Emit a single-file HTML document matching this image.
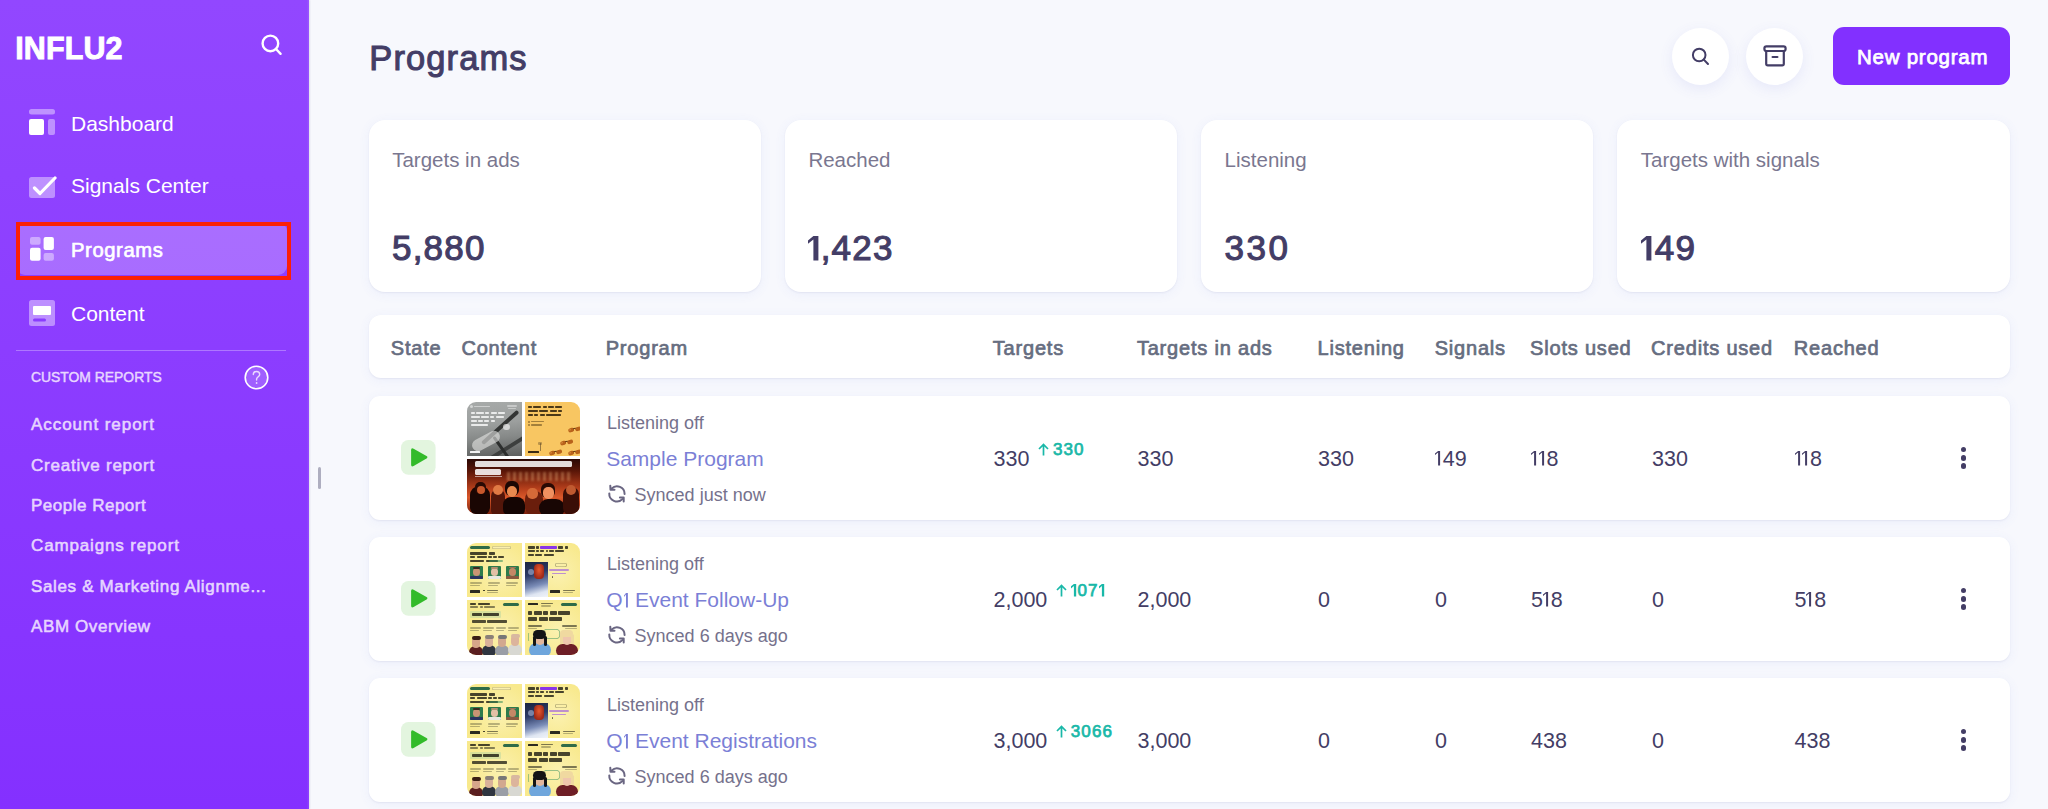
<!DOCTYPE html>
<html><head><meta charset="utf-8"><style>
html,body{margin:0;padding:0}
body{width:2048px;height:809px;overflow:hidden;position:relative;background:#f7f8fd;font-family:"Liberation Sans",sans-serif}
.t{position:absolute;line-height:1;white-space:nowrap}
.a{position:absolute}
#sb{position:absolute;left:0;top:0;width:309px;height:809px;background:linear-gradient(180deg,#9247ff 0%,#8430ff 100%);box-shadow:inset -1.5px 0 0 rgba(255,255,255,0.07),1px 0 1.5px rgba(60,50,110,0.12)}
.circ{width:57px;height:57px;border-radius:50%;background:#fff;box-shadow:0 4px 14px rgba(90,100,220,0.10)}
.card{background:#fff;border-radius:16px;box-shadow:0 1px 2px rgba(50,60,110,0.07),0 2px 12px rgba(90,110,220,0.07)}
.thumb{width:112.3px;height:112px;border-radius:9px;overflow:hidden}
.q{position:absolute;overflow:hidden}
.q i{position:absolute;display:block}
</style></head><body>
<div id="sb"></div><div class="t" style="left:15.30px;top:32.58px;font-size:30.5px;color:#fff;font-weight:700;letter-spacing:0.1px;-webkit-text-stroke:0.9px #fff;">INFLU2</div>
<svg class="a" style="left:258px;top:31px" width="28" height="28" viewBox="0 0 28 28">
<circle cx="12.4" cy="12.4" r="7.8" fill="none" stroke="#fff" stroke-width="2.4"/>
<line x1="18" y1="18" x2="22.6" y2="22.8" stroke="#fff" stroke-width="2.4" stroke-linecap="round"/></svg><svg class="a" style="left:29px;top:109px" width="26" height="26" viewBox="0 0 26 26">
<rect x="0" y="0" width="26" height="5.5" rx="2.5" fill="rgba(255,255,255,0.42)"/>
<rect x="0" y="10" width="15" height="16" rx="2" fill="#fff"/>
<rect x="19" y="10" width="7" height="16" rx="2" fill="rgba(255,255,255,0.42)"/></svg><svg class="a" style="left:29px;top:173px" width="28" height="26" viewBox="0 0 28 26">
<rect x="0" y="4" width="26" height="21" rx="2.5" fill="rgba(255,255,255,0.42)"/>
<path d="M5.5 15 L11 20.5 L26 5" fill="none" stroke="#fff" stroke-width="3.2" stroke-linecap="round" stroke-linejoin="round"/></svg><div class="a" style="left:16px;top:222px;width:270.5px;height:52.8px;border-radius:9px;background:rgba(255,255,255,0.24)"></div><div class="a" style="left:16px;top:222px;width:267px;height:49.5px;border:4px solid #fc2006"></div><svg class="a" style="left:30px;top:237px" width="25" height="24" viewBox="0 0 25 24">
<rect x="0" y="0" width="10.6" height="7.8" rx="2" fill="rgba(255,255,255,0.42)"/>
<rect x="13.6" y="0" width="10.3" height="13" rx="2" fill="#fff"/>
<rect x="0" y="10.7" width="10.6" height="13.1" rx="2" fill="#fff"/>
<rect x="13.6" y="16" width="10.3" height="7.8" rx="2" fill="rgba(255,255,255,0.42)"/></svg><svg class="a" style="left:29px;top:300px" width="26" height="26" viewBox="0 0 26 26">
<rect x="0" y="0" width="26" height="26" rx="2.5" fill="rgba(255,255,255,0.42)"/>
<rect x="4" y="6" width="18" height="9" rx="1" fill="#fff"/>
<rect x="4" y="18.5" width="13" height="3" rx="1.5" fill="#8a3cff"/></svg><div class="t" style="left:71.00px;top:112.52px;font-size:21px;color:#fff;font-weight:400;letter-spacing:0px;">Dashboard</div>
<div class="t" style="left:71.00px;top:174.92px;font-size:21px;color:#fff;font-weight:400;letter-spacing:0px;">Signals Center</div>
<div class="t" style="left:71.00px;top:240.20px;font-size:20.2px;color:#fff;font-weight:400;letter-spacing:0.62px;-webkit-text-stroke:0.65px #fff;">Programs</div>
<div class="t" style="left:71.00px;top:302.72px;font-size:21px;color:#fff;font-weight:400;letter-spacing:0px;">Content</div>
<div class="a" style="left:16px;top:350px;width:270px;height:1px;background:rgba(255,255,255,0.3)"></div><div class="t" style="left:31.00px;top:371.03px;font-size:13.9px;color:#e8d6ff;font-weight:400;letter-spacing:0px;-webkit-text-stroke:0.45px #e8d6ff;">CUSTOM REPORTS</div>
<svg class="a" style="left:244px;top:365px" width="25" height="25" viewBox="0 0 25 25">
<circle cx="12.5" cy="12.5" r="11.3" fill="rgba(255,255,255,0.18)" stroke="#fff" stroke-width="1.6"/>
<path d="M9.3 9.6 C9.3 7.6 10.8 6.5 12.5 6.5 C14.3 6.5 15.7 7.7 15.7 9.4 C15.7 11.4 13 11.8 12.6 13.8 L12.6 15" fill="none" stroke="#ead9ff" stroke-width="1.4" stroke-linecap="round"/>
<circle cx="12.6" cy="18" r="0.9" fill="#ead9ff"/></svg><div class="t" style="left:31.00px;top:416.21px;font-size:17px;color:#e6d5ff;font-weight:400;letter-spacing:0.95px;-webkit-text-stroke:0.55px #e6d5ff;">Account report</div>
<div class="t" style="left:31.00px;top:456.56px;font-size:17px;color:#e6d5ff;font-weight:400;letter-spacing:0.77px;-webkit-text-stroke:0.55px #e6d5ff;">Creative report</div>
<div class="t" style="left:31.00px;top:496.91px;font-size:17px;color:#e6d5ff;font-weight:400;letter-spacing:0.5px;-webkit-text-stroke:0.55px #e6d5ff;">People Report</div>
<div class="t" style="left:31.00px;top:537.26px;font-size:17px;color:#e6d5ff;font-weight:400;letter-spacing:0.85px;-webkit-text-stroke:0.55px #e6d5ff;">Campaigns report</div>
<div class="t" style="left:31.00px;top:577.61px;font-size:17px;color:#e6d5ff;font-weight:400;letter-spacing:0.65px;-webkit-text-stroke:0.55px #e6d5ff;">Sales &amp; Marketing Alignme...</div>
<div class="t" style="left:31.00px;top:617.96px;font-size:17px;color:#e6d5ff;font-weight:400;letter-spacing:0.6px;-webkit-text-stroke:0.55px #e6d5ff;">ABM Overview</div>
<div class="a" style="left:318px;top:467px;width:3px;height:22px;border-radius:2px;background:#aeaec0"></div><div class="t" style="left:369.30px;top:40.70px;font-size:34.5px;color:#433d66;font-weight:400;letter-spacing:1.1px;-webkit-text-stroke:1.05px #433d66;">Programs</div>
<div class="a circ" style="left:1671.5px;top:27.5px"></div><div class="a circ" style="left:1746.2px;top:27.5px"></div><svg class="a" style="left:1688px;top:44px" width="24" height="24" viewBox="0 0 24 24">
<circle cx="11.2" cy="11" r="6.3" fill="none" stroke="#433d66" stroke-width="2"/>
<line x1="15.8" y1="15.6" x2="20" y2="20" stroke="#433d66" stroke-width="2" stroke-linecap="round"/></svg><svg class="a" style="left:1762px;top:44px" width="26" height="24" viewBox="0 0 26 24">
<rect x="2.4" y="2.4" width="21.2" height="4.6" rx="2" fill="none" stroke="#433d66" stroke-width="2.2"/>
<path d="M4.2 7 L4.2 19.8 Q4.2 21.4 5.8 21.4 L20.2 21.4 Q21.8 21.4 21.8 19.8 L21.8 7" fill="none" stroke="#433d66" stroke-width="2.2"/>
<line x1="10.6" y1="13" x2="15.4" y2="13" stroke="#433d66" stroke-width="2.2" stroke-linecap="round"/></svg><div class="a" style="left:1833px;top:27px;width:177px;height:57.5px;border-radius:11px;background:#8230ff"></div><div class="t" style="left:1857.00px;top:46.75px;font-size:20.5px;color:#fff;font-weight:400;letter-spacing:0.75px;-webkit-text-stroke:0.75px #fff;">New program</div>
<div class="a card" style="left:368.50px;top:119.5px;width:392.5px;height:172.5px"></div><div class="t" style="left:392.20px;top:150.15px;font-size:20.5px;color:#7a7790;font-weight:400;letter-spacing:0px;">Targets in ads</div>
<div class="t" style="left:392.00px;top:229.87px;font-size:35px;color:#433d66;font-weight:400;letter-spacing:1.2px;-webkit-text-stroke:1.1px #433d66;">5,880</div>
<div class="a card" style="left:784.70px;top:119.5px;width:392.5px;height:172.5px"></div><div class="t" style="left:808.40px;top:150.15px;font-size:20.5px;color:#7a7790;font-weight:400;letter-spacing:0px;">Reached</div>
<div class="t" style="left:808.20px;top:229.87px;font-size:35px;color:#433d66;font-weight:400;letter-spacing:1.2px;-webkit-text-stroke:1.1px #433d66;"><svg width="12.50" height="24.60" viewBox="0 0 12.50 24.60" style="display:inline-block;vertical-align:-0.4px;overflow:visible"><path d="M5.40 0.00 L10.40 0.00 L10.40 24.60 L5.40 24.60 L5.40 3.40 L0.00 7.70 L0.00 4.40 Z" fill="#433d66"/></svg>,423</div>
<div class="a card" style="left:1200.90px;top:119.5px;width:392.5px;height:172.5px"></div><div class="t" style="left:1224.60px;top:150.15px;font-size:20.5px;color:#7a7790;font-weight:400;letter-spacing:0px;">Listening</div>
<div class="t" style="left:1224.40px;top:229.87px;font-size:35px;color:#433d66;font-weight:400;letter-spacing:1.2px;-webkit-text-stroke:1.1px #433d66;"><span style="letter-spacing:2.6px">330</span></div>
<div class="a card" style="left:1617.10px;top:119.5px;width:392.5px;height:172.5px"></div><div class="t" style="left:1640.80px;top:150.15px;font-size:20.5px;color:#7a7790;font-weight:400;letter-spacing:0px;">Targets with signals</div>
<div class="t" style="left:1640.60px;top:229.87px;font-size:35px;color:#433d66;font-weight:400;letter-spacing:1.2px;-webkit-text-stroke:1.1px #433d66;"><svg width="14.20" height="24.60" viewBox="0 0 14.20 24.60" style="display:inline-block;vertical-align:-0.4px;overflow:visible"><path d="M5.40 0.00 L10.40 0.00 L10.40 24.60 L5.40 24.60 L5.40 3.40 L0.00 7.70 L0.00 4.40 Z" fill="#433d66"/></svg>49</div>
<div class="a card" style="left:368.5px;top:315px;width:1641px;height:63px;border-radius:12px"></div><div class="t" style="left:390.80px;top:337.77px;font-size:20px;color:#666d80;font-weight:400;letter-spacing:0.8px;-webkit-text-stroke:0.7px #666d80;">State</div>
<div class="t" style="left:461.40px;top:337.77px;font-size:20px;color:#666d80;font-weight:400;letter-spacing:0.8px;-webkit-text-stroke:0.7px #666d80;">Content</div>
<div class="t" style="left:605.70px;top:337.77px;font-size:20px;color:#666d80;font-weight:400;letter-spacing:0.8px;-webkit-text-stroke:0.7px #666d80;">Program</div>
<div class="t" style="left:992.80px;top:337.77px;font-size:20px;color:#666d80;font-weight:400;letter-spacing:0.8px;-webkit-text-stroke:0.7px #666d80;">Targets</div>
<div class="t" style="left:1136.90px;top:337.77px;font-size:20px;color:#666d80;font-weight:400;letter-spacing:0.8px;-webkit-text-stroke:0.7px #666d80;">Targets in ads</div>
<div class="t" style="left:1317.50px;top:337.77px;font-size:20px;color:#666d80;font-weight:400;letter-spacing:0.8px;-webkit-text-stroke:0.7px #666d80;">Listening</div>
<div class="t" style="left:1434.70px;top:337.77px;font-size:20px;color:#666d80;font-weight:400;letter-spacing:0.8px;-webkit-text-stroke:0.7px #666d80;">Signals</div>
<div class="t" style="left:1530.10px;top:337.77px;font-size:20px;color:#666d80;font-weight:400;letter-spacing:0.8px;-webkit-text-stroke:0.7px #666d80;">Slots used</div>
<div class="t" style="left:1651.10px;top:337.77px;font-size:20px;color:#666d80;font-weight:400;letter-spacing:0.8px;-webkit-text-stroke:0.7px #666d80;">Credits used</div>
<div class="t" style="left:1793.80px;top:337.77px;font-size:20px;color:#666d80;font-weight:400;letter-spacing:0.8px;-webkit-text-stroke:0.7px #666d80;">Reached</div>
<div class="a card" style="left:368.5px;top:396px;width:1641px;height:124px;border-radius:11px"></div><svg class="a" style="left:400.6px;top:440.4px" width="35" height="35" viewBox="0 0 35 35">
<rect x="0" y="0" width="34.6" height="34.8" rx="7.5" fill="#e3f5df"/>
<path d="M10.1 10.2 Q10.1 7.3 12.6 8.7 L25.5 16.1 Q27.4 17.3 25.5 18.6 L12.6 26.1 Q10.1 27.5 10.1 24.6 Z" fill="#33bb2a"/></svg><div class="a thumb" style="left:467.3px;top:402px"><div class="q" style="left:0;top:0;width:55px;height:54px;background:linear-gradient(175deg,#a7aaa9 0%,#9c9f9e 40%,#868988 65%,#5d5f5e 100%)"><i style="left:3px;top:3px;width:3px;height:3px;background:rgba(255,255,255,0.5);border-radius:2px;"></i><i style="left:7px;top:3.5px;width:16px;height:1.6px;background:rgba(255,255,255,0.45);border-radius:1px;"></i><i style="left:40px;top:3px;width:10px;height:1.6px;background:rgba(255,255,255,0.4);border-radius:1px;"></i><i style="left:41px;top:6px;width:8px;height:1.4px;background:rgba(255,255,255,0.4);border-radius:1px;"></i><i style="left:3.5px;top:9.5px;width:4px;height:2.4px;background:rgba(255,255,255,0.78);border-radius:0.8px;"></i><i style="left:8.8px;top:9.5px;width:8px;height:2.4px;background:rgba(255,255,255,0.78);border-radius:0.8px;"></i><i style="left:18.1px;top:9.5px;width:4px;height:2.4px;background:rgba(255,255,255,0.78);border-radius:0.8px;"></i><i style="left:23.4px;top:9.5px;width:6px;height:2.4px;background:rgba(255,255,255,0.78);border-radius:0.8px;"></i><i style="left:30.7px;top:9.5px;width:7px;height:2.4px;background:rgba(255,255,255,0.78);border-radius:0.8px;"></i><i style="left:3.5px;top:13.5px;width:9px;height:2.4px;background:rgba(255,255,255,0.78);border-radius:0.8px;"></i><i style="left:13.8px;top:13.5px;width:8px;height:2.4px;background:rgba(255,255,255,0.78);border-radius:0.8px;"></i><i style="left:23.1px;top:13.5px;width:4px;height:2.4px;background:rgba(255,255,255,0.78);border-radius:0.8px;"></i><i style="left:28.4px;top:13.5px;width:8px;height:2.4px;background:rgba(255,255,255,0.78);border-radius:0.8px;"></i><i style="left:3.5px;top:17.5px;width:6px;height:2.4px;background:rgba(255,255,255,0.78);border-radius:0.8px;"></i><i style="left:10.8px;top:17.5px;width:5px;height:2.4px;background:rgba(255,255,255,0.78);border-radius:0.8px;"></i><i style="left:17.1px;top:17.5px;width:5px;height:2.4px;background:rgba(255,255,255,0.78);border-radius:0.8px;"></i><i style="left:23.4px;top:17.5px;width:4px;height:2.4px;background:rgba(255,255,255,0.78);border-radius:0.8px;"></i><i style="left:3.5px;top:21.5px;width:17px;height:2.4px;background:rgba(255,255,255,0.78);border-radius:0.8px;"></i><i style="left:14px;top:40px;width:48px;height:4px;background:#343635;border-radius:2px;transform:rotate(-42deg);transform-origin:0 0"></i><i style="left:22px;top:55px;width:44px;height:3.5px;background:#3d3f3e;border-radius:2px;transform:rotate(-32deg);transform-origin:0 0"></i><i style="left:28px;top:34px;width:26px;height:3px;background:#2c2e2d;border-radius:1.5px;transform:rotate(55deg);transform-origin:0 0"></i><i style="left:4px;top:33px;width:30px;height:12px;background:rgba(230,230,228,0.6);border-radius:6px;transform:rotate(-28deg)"></i><i style="left:36px;top:22px;width:7px;height:6px;background:rgba(240,240,240,0.7);border-radius:3px;"></i><i style="left:3px;top:48.5px;width:10px;height:2.6px;background:rgba(255,255,255,0.9);border-radius:0.5px;"></i></div><div class="q" style="left:57.7px;top:0;width:54.6px;height:54px;background:#f8c662"><i style="left:3px;top:3.5px;width:4px;height:2.6px;background:rgba(45,30,10,0.85);border-radius:0.8px;"></i><i style="left:8.3px;top:3.5px;width:8px;height:2.6px;background:rgba(45,30,10,0.85);border-radius:0.8px;"></i><i style="left:17.6px;top:3.5px;width:4px;height:2.6px;background:rgba(45,30,10,0.85);border-radius:0.8px;"></i><i style="left:22.9px;top:3.5px;width:6px;height:2.6px;background:rgba(45,30,10,0.85);border-radius:0.8px;"></i><i style="left:30.2px;top:3.5px;width:7px;height:2.6px;background:rgba(45,30,10,0.85);border-radius:0.8px;"></i><i style="left:3px;top:7.7px;width:10px;height:2.6px;background:rgba(45,30,10,0.85);border-radius:0.8px;"></i><i style="left:14.3px;top:7.7px;width:9px;height:2.6px;background:rgba(45,30,10,0.85);border-radius:0.8px;"></i><i style="left:24.6px;top:7.7px;width:7px;height:2.6px;background:rgba(45,30,10,0.85);border-radius:0.8px;"></i><i style="left:32.9px;top:7.7px;width:4px;height:2.6px;background:rgba(45,30,10,0.85);border-radius:0.8px;"></i><i style="left:3px;top:11.9px;width:5px;height:2.6px;background:rgba(45,30,10,0.85);border-radius:0.8px;"></i><i style="left:9.3px;top:11.9px;width:4px;height:2.6px;background:rgba(45,30,10,0.85);border-radius:0.8px;"></i><i style="left:14.6px;top:11.9px;width:5px;height:2.6px;background:rgba(45,30,10,0.85);border-radius:0.8px;"></i><i style="left:20.9px;top:11.9px;width:15px;height:2.6px;background:rgba(45,30,10,0.85);border-radius:0.8px;"></i><i style="left:3px;top:18.5px;width:2px;height:2px;background:rgba(60,40,10,0.5);border-radius:1px;"></i><i style="left:6px;top:18.8px;width:13px;height:1.4px;background:rgba(60,40,10,0.45);border-radius:0.7px;"></i><i style="left:3px;top:22px;width:2px;height:2px;background:rgba(60,40,10,0.5);border-radius:1px;"></i><i style="left:6px;top:22.3px;width:11px;height:1.4px;background:rgba(60,40,10,0.45);border-radius:0.7px;"></i><i style="left:43px;top:24px;width:13px;height:6px;transform:rotate(-18deg)"><i style="left:0px;top:1px;width:5.5px;height:4.2px;background:#b8621a;border-radius:2.5px;"></i><i style="left:7px;top:1.5px;width:5.5px;height:4.2px;background:#b8621a;border-radius:2.5px;"></i><i style="left:4.5px;top:1.6px;width:3px;height:0.9px;background:#6a3a10;border-radius:0.5px;"></i><i style="left:0.8px;top:1.8px;width:2.5px;height:1.6px;background:rgba(240,170,90,0.6);border-radius:1px;"></i></i><i style="left:35px;top:37px;width:13px;height:6px;transform:rotate(-18deg)"><i style="left:0px;top:1px;width:5.5px;height:4.2px;background:#b8621a;border-radius:2.5px;"></i><i style="left:7px;top:1.5px;width:5.5px;height:4.2px;background:#b8621a;border-radius:2.5px;"></i><i style="left:4.5px;top:1.6px;width:3px;height:0.9px;background:#6a3a10;border-radius:0.5px;"></i><i style="left:0.8px;top:1.8px;width:2.5px;height:1.6px;background:rgba(240,170,90,0.6);border-radius:1px;"></i></i><i style="left:24px;top:47px;width:13px;height:6px;transform:rotate(-18deg)"><i style="left:0px;top:1px;width:5.5px;height:4.2px;background:#b8621a;border-radius:2.5px;"></i><i style="left:7px;top:1.5px;width:5.5px;height:4.2px;background:#b8621a;border-radius:2.5px;"></i><i style="left:4.5px;top:1.6px;width:3px;height:0.9px;background:#6a3a10;border-radius:0.5px;"></i><i style="left:0.8px;top:1.8px;width:2.5px;height:1.6px;background:rgba(240,170,90,0.6);border-radius:1px;"></i></i><i style="left:43px;top:47px;width:13px;height:6px;transform:rotate(-18deg)"><i style="left:0px;top:1px;width:5.5px;height:4.2px;background:#b8621a;border-radius:2.5px;"></i><i style="left:7px;top:1.5px;width:5.5px;height:4.2px;background:#b8621a;border-radius:2.5px;"></i><i style="left:4.5px;top:1.6px;width:3px;height:0.9px;background:#6a3a10;border-radius:0.5px;"></i><i style="left:0.8px;top:1.8px;width:2.5px;height:1.6px;background:rgba(240,170,90,0.6);border-radius:1px;"></i></i><i style="left:15px;top:41px;width:1.2px;height:8px;background:rgba(90,70,40,0.6);border-radius:0.5px;"></i><i style="left:13.5px;top:40px;width:4px;height:3px;background:rgba(90,70,40,0.4);border-radius:1px;"></i><i style="left:3px;top:48.5px;width:11px;height:2.6px;background:#3a2a12;border-radius:0.5px;"></i></div><div class="q" style="left:0;top:56.8px;width:112.3px;height:55.2px;background:linear-gradient(180deg,#2a0804 0%,#5a1608 22%,#b8401c 55%,#d9582a 70%,#7a200c 100%)"><i style="left:40px;top:13px;width:66px;height:9px;background:repeating-linear-gradient(90deg,rgba(255,200,140,0.35) 0 3px,transparent 3px 6px);border-radius:1px;filter:blur(0.8px)"></i><i style="left:8px;top:2.5px;width:97px;height:5.8px;background:rgba(255,255,255,0.86);border-radius:1.5px;"></i><i style="left:8px;top:10.5px;width:26px;height:5.8px;background:rgba(255,255,255,0.86);border-radius:1.5px;"></i><i style="left:8px;top:17.5px;width:27px;height:0.8px;background:rgba(255,255,255,0.55);border-radius:0px;"></i><i style="left:3px;top:27px;width:20px;height:30px;background:#1a0603;border-radius:9px;"></i><i style="left:8px;top:23px;width:11px;height:12px;background:#2a0a04;border-radius:5px;"></i><i style="left:10px;top:27px;width:8px;height:8px;background:#c8582c;border-radius:4px;"></i><i style="left:24px;top:30px;width:14px;height:28px;background:#52160a;border-radius:7px;"></i><i style="left:26px;top:26px;width:10px;height:10px;background:#e07a44;border-radius:5px;"></i><i style="left:38px;top:22px;width:14px;height:15px;background:#1c0704;border-radius:6px;"></i><i style="left:40px;top:27px;width:10px;height:11px;background:#e88a50;border-radius:5px;"></i><i style="left:36px;top:38px;width:22px;height:20px;background:#140503;border-radius:8px;"></i><i style="left:58px;top:32px;width:18px;height:24px;background:#6a1e0c;border-radius:8px;"></i><i style="left:60px;top:29px;width:11px;height:11px;background:#d46a38;border-radius:5px;"></i><i style="left:74px;top:24px;width:14px;height:15px;background:#2a0a04;border-radius:6px;"></i><i style="left:76px;top:28px;width:11px;height:12px;background:#f09060;border-radius:5px;"></i><i style="left:72px;top:40px;width:26px;height:18px;background:#180604;border-radius:9px;"></i><i style="left:96px;top:28px;width:16px;height:28px;background:#3a0e06;border-radius:7px;"></i><i style="left:99px;top:26px;width:10px;height:10px;background:#c05a30;border-radius:5px;"></i></div></div><div class="t" style="left:607.00px;top:413.56px;font-size:18px;color:#75718c;font-weight:400;letter-spacing:0px;">Listening off</div>
<div class="t" style="left:606.20px;top:448.02px;font-size:21px;color:#7b7fd6;font-weight:400;letter-spacing:0px;">Sample Program</div>
<svg class="a" style="left:603px;top:480px" width="28" height="28" viewBox="0 0 28 28">
<path d="M21.6 13.9 A7.6 7.6 0 0 0 8.7 8.5" fill="none" stroke="#6a6682" stroke-width="2" stroke-linecap="round"/>
<path d="M6.3 13.4 A7.6 7.6 0 0 0 19.4 19.1" fill="none" stroke="#6a6682" stroke-width="2" stroke-linecap="round"/>
<path d="M7.3 5.7 L7.5 9.8 L11.5 9.8" fill="none" stroke="#6a6682" stroke-width="2" stroke-linecap="round" stroke-linejoin="round"/>
<path d="M16.9 17.6 L20.7 17.6 L20.7 21.5" fill="none" stroke="#6a6682" stroke-width="2" stroke-linecap="round" stroke-linejoin="round"/></svg><div class="t" style="left:634.60px;top:485.96px;font-size:18px;color:#75718c;font-weight:400;letter-spacing:0px;">Synced just now</div>
<div class="t" style="left:993.5px;top:448.50px;font-size:21.5px;color:#433d65">330<span style="display:inline-block;width:8.5px"></span><span style="position:relative;top:-10.6px;font-size:17px;font-weight:400;-webkit-text-stroke:0.75px #19b8a8;color:#19b8a8;letter-spacing:1.1px"><svg width="11" height="13" viewBox="0 0 11 13" style="vertical-align:-1px;margin-right:4px"><path d="M5.5 12.5 L5.5 1.5 M1 6 L5.5 1.5 L10 6" fill="none" stroke="#19b8a8" stroke-width="1.7"/></svg>330</span></div>
<div class="t" style="left:1137.50px;top:448.50px;font-size:21.5px;color:#433d65;font-weight:400;letter-spacing:0px;">330</div>
<div class="t" style="left:1318.00px;top:448.50px;font-size:21.5px;color:#433d65;font-weight:400;letter-spacing:0px;">330</div>
<div class="t" style="left:1435.00px;top:448.50px;font-size:21.5px;color:#433d65;font-weight:400;letter-spacing:0px;"><svg width="7.70" height="14.50" viewBox="0 0 7.70 14.50" style="display:inline-block;vertical-align:-0.4px;overflow:visible"><path d="M3.10 0.00 L5.10 0.00 L5.10 14.50 L3.10 14.50 L3.10 1.60 L0.00 4.00 L0.00 2.60 Z" fill="#433d65"/></svg>49</div>
<div class="t" style="left:1531.00px;top:448.50px;font-size:21.5px;color:#433d65;font-weight:400;letter-spacing:0px;"><svg width="7.70" height="14.50" viewBox="0 0 7.70 14.50" style="display:inline-block;vertical-align:-0.4px;overflow:visible"><path d="M3.10 0.00 L5.10 0.00 L5.10 14.50 L3.10 14.50 L3.10 1.60 L0.00 4.00 L0.00 2.60 Z" fill="#433d65"/></svg><svg width="7.70" height="14.50" viewBox="0 0 7.70 14.50" style="display:inline-block;vertical-align:-0.4px;overflow:visible"><path d="M3.10 0.00 L5.10 0.00 L5.10 14.50 L3.10 14.50 L3.10 1.60 L0.00 4.00 L0.00 2.60 Z" fill="#433d65"/></svg>8</div>
<div class="t" style="left:1652.00px;top:448.50px;font-size:21.5px;color:#433d65;font-weight:400;letter-spacing:0px;">330</div>
<div class="t" style="left:1794.50px;top:448.50px;font-size:21.5px;color:#433d65;font-weight:400;letter-spacing:0px;"><svg width="7.70" height="14.50" viewBox="0 0 7.70 14.50" style="display:inline-block;vertical-align:-0.4px;overflow:visible"><path d="M3.10 0.00 L5.10 0.00 L5.10 14.50 L3.10 14.50 L3.10 1.60 L0.00 4.00 L0.00 2.60 Z" fill="#433d65"/></svg><svg width="7.70" height="14.50" viewBox="0 0 7.70 14.50" style="display:inline-block;vertical-align:-0.4px;overflow:visible"><path d="M3.10 0.00 L5.10 0.00 L5.10 14.50 L3.10 14.50 L3.10 1.60 L0.00 4.00 L0.00 2.60 Z" fill="#433d65"/></svg>8</div>
<div class="a" style="left:1960.9px;top:446.70px;width:5.5px;height:5.5px;border-radius:50%;background:#433d65"></div><div class="a" style="left:1960.9px;top:455.00px;width:5.5px;height:5.5px;border-radius:50%;background:#433d65"></div><div class="a" style="left:1960.9px;top:463.30px;width:5.5px;height:5.5px;border-radius:50%;background:#433d65"></div><div class="a card" style="left:368.5px;top:537px;width:1641px;height:124px;border-radius:11px"></div><svg class="a" style="left:400.6px;top:581.4px" width="35" height="35" viewBox="0 0 35 35">
<rect x="0" y="0" width="34.6" height="34.8" rx="7.5" fill="#e3f5df"/>
<path d="M10.1 10.2 Q10.1 7.3 12.6 8.7 L25.5 16.1 Q27.4 17.3 25.5 18.6 L12.6 26.1 Q10.1 27.5 10.1 24.6 Z" fill="#33bb2a"/></svg><div class="a thumb" style="left:467.3px;top:543px"><div class="q" style="left:0;top:0;width:54.6px;height:54px;background:radial-gradient(circle at 60% 55%,#fbf1b0 0%,#f8e98d 70%)"><i style="left:3px;top:2.5px;width:20px;height:3px;background:#2f6b48;border-radius:2px;"></i><i style="left:25px;top:2.5px;width:19px;height:3px;background:rgba(255,255,255,0.25);border-radius:2px;box-shadow:inset 0 0 0 0.6px rgba(120,110,60,0.5)"></i><i style="left:3px;top:9px;width:17px;height:2.5px;background:rgba(40,38,25,0.85);border-radius:0.8px;"></i><i style="left:21.3px;top:9px;width:6px;height:2.5px;background:rgba(40,38,25,0.85);border-radius:0.8px;"></i><i style="left:3px;top:12.8px;width:5px;height:2.5px;background:rgba(40,38,25,0.85);border-radius:0.8px;"></i><i style="left:9.3px;top:12.8px;width:10px;height:2.5px;background:rgba(40,38,25,0.85);border-radius:0.8px;"></i><i style="left:20.6px;top:12.8px;width:4px;height:2.5px;background:rgba(40,38,25,0.85);border-radius:0.8px;"></i><i style="left:25.9px;top:12.8px;width:4px;height:2.5px;background:rgba(40,38,25,0.85);border-radius:0.8px;"></i><i style="left:31.2px;top:12.8px;width:6px;height:2.5px;background:rgba(40,38,25,0.85);border-radius:0.8px;"></i><i style="left:3px;top:16.6px;width:14px;height:2.5px;background:rgba(40,38,25,0.85);border-radius:0.8px;"></i><i style="left:19px;top:16.6px;width:12px;height:2.5px;background:rgba(40,38,25,0.85);border-radius:0.8px;"></i><i style="left:22px;top:16.8px;width:14px;height:2px;background:rgba(50,140,90,0.55);border-radius:1px;"></i><i style="left:3px;top:23px;width:12.5px;height:13px;background:#2d7b4c;border-radius:1px;"></i><i style="left:21px;top:23px;width:12.5px;height:13px;background:#2d7b4c;border-radius:1px;"></i><i style="left:39px;top:23px;width:12.5px;height:13px;background:#2d7b4c;border-radius:1px;"></i><i style="left:5.8px;top:24.5px;width:7px;height:8px;background:#c99474;border-radius:3.5px;"></i><i style="left:23.8px;top:24.5px;width:7px;height:8px;background:#e2c0a6;border-radius:3.5px;"></i><i style="left:41.8px;top:24.5px;width:7px;height:8px;background:#c48866;border-radius:3.5px;"></i><i style="left:5.5px;top:23.8px;width:7.5px;height:2.5px;background:#3a2a20;border-radius:2px;"></i><i style="left:23.5px;top:23.8px;width:7.5px;height:2px;background:#b09070;border-radius:2px;"></i><i style="left:41.5px;top:23.8px;width:7.5px;height:1.5px;background:#a07058;border-radius:2px;"></i><i style="left:3px;top:32.5px;width:12.5px;height:3.5px;background:#2a3460;border-radius:1px;"></i><i style="left:21px;top:32.5px;width:12.5px;height:3.5px;background:#e8e8e0;border-radius:1px;"></i><i style="left:39px;top:32.5px;width:12.5px;height:3.5px;background:#8a5a40;border-radius:1px;"></i><i style="left:3px;top:39px;width:12px;height:1.5px;background:rgba(60,60,40,0.35);border-radius:1px;"></i><i style="left:21px;top:39px;width:12px;height:1.5px;background:rgba(60,60,40,0.35);border-radius:1px;"></i><i style="left:39px;top:39px;width:12px;height:1.5px;background:rgba(60,60,40,0.35);border-radius:1px;"></i><i style="left:3px;top:41.5px;width:10px;height:1.2px;background:rgba(60,60,40,0.35);border-radius:1px;"></i><i style="left:21px;top:41.5px;width:10px;height:1.2px;background:rgba(60,60,40,0.35);border-radius:1px;"></i><i style="left:39px;top:41.5px;width:10px;height:1.2px;background:rgba(60,60,40,0.35);border-radius:1px;"></i><i style="left:3px;top:47px;width:10px;height:2.6px;background:#2b2a20;border-radius:0.5px;"></i><i style="left:16px;top:47px;width:2px;height:0.8px;background:rgba(40,38,25,0.85);border-radius:0px;"></i><i style="left:20px;top:46.5px;width:11px;height:1.5px;background:rgba(40,40,30,0.6);border-radius:1px;"></i><i style="left:20px;top:48.8px;width:11px;height:1.2px;background:rgba(60,60,40,0.35);border-radius:1px;"></i></div><div class="q" style="left:57.7px;top:0;width:54.6px;height:54px;background:radial-gradient(circle at 60% 55%,#fbf1b0 0%,#f8e98d 70%)"><i style="left:3px;top:3px;width:7px;height:2.6px;background:rgba(40,38,25,0.85);border-radius:0.8px;"></i><i style="left:11.3px;top:3px;width:3px;height:2.6px;background:rgba(40,38,25,0.85);border-radius:0.8px;"></i><i style="left:15px;top:3px;width:17px;height:2.6px;background:#8a35e8;border-radius:0.8px;"></i><i style="left:33.5px;top:3px;width:5px;height:2.6px;background:rgba(40,38,25,0.85);border-radius:0.8px;"></i><i style="left:39.8px;top:3px;width:3px;height:2.6px;background:rgba(40,38,25,0.85);border-radius:0.8px;"></i><i style="left:3px;top:6.9px;width:7px;height:2.6px;background:rgba(40,38,25,0.85);border-radius:0.8px;"></i><i style="left:11.2px;top:6.9px;width:3px;height:2.6px;background:rgba(40,38,25,0.85);border-radius:0.8px;"></i><i style="left:15.4px;top:6.9px;width:4px;height:2.6px;background:rgba(40,38,25,0.85);border-radius:0.8px;"></i><i style="left:20.6px;top:6.9px;width:2px;height:2.6px;background:rgba(40,38,25,0.85);border-radius:0.8px;"></i><i style="left:23.8px;top:6.9px;width:5px;height:2.6px;background:rgba(40,38,25,0.85);border-radius:0.8px;"></i><i style="left:30.0px;top:6.9px;width:9px;height:2.6px;background:rgba(40,38,25,0.85);border-radius:0.8px;"></i><i style="left:3px;top:10.8px;width:6px;height:2.6px;background:rgba(40,38,25,0.85);border-radius:0.8px;"></i><i style="left:10.3px;top:10.8px;width:7px;height:2.6px;background:rgba(40,38,25,0.85);border-radius:0.8px;"></i><i style="left:18.6px;top:10.8px;width:10px;height:2.6px;background:rgba(40,38,25,0.85);border-radius:0.8px;"></i><i style="left:0;top:19px;width:23px;height:35px;background:linear-gradient(165deg,#1a2440 0%,#2c3a66 35%,#7b8db8 65%,#dfe6f2 85%,#f0f3f8 100%)"></i><i style="left:9px;top:21px;width:10px;height:15px;background:radial-gradient(ellipse at 50% 40%,#e8582e 0%,#a02a18 70%);border-radius:4px;"></i><i style="left:3px;top:26px;width:6px;height:6px;background:rgba(200,210,240,0.5);border-radius:3px;"></i><i style="left:30px;top:20px;width:12px;height:4px;background:transparent;border-radius:2px;box-shadow:inset 0 0 0 0.6px rgba(60,60,40,0.5)"></i><i style="left:24px;top:26px;width:20px;height:1.6px;background:rgba(150,80,230,0.6);border-radius:1px;"></i><i style="left:27px;top:29.5px;width:14px;height:1.6px;background:rgba(150,80,230,0.6);border-radius:1px;"></i><i style="left:27px;top:33px;width:1.5px;height:1.5px;background:rgba(40,40,30,0.7);border-radius:1px;"></i><i style="left:25px;top:47px;width:10px;height:2.6px;background:#2b2a20;border-radius:0.5px;"></i><i style="left:38px;top:46.5px;width:12px;height:1.5px;background:rgba(40,40,30,0.6);border-radius:1px;"></i><i style="left:38px;top:48.8px;width:10px;height:1.2px;background:rgba(60,60,40,0.35);border-radius:1px;"></i></div><div class="q" style="left:0;top:57.3px;width:54.6px;height:54.7px;background:radial-gradient(circle at 60% 55%,#fbf1b0 0%,#f8e98d 70%)"><i style="left:3px;top:2.5px;width:6px;height:2.4px;background:rgba(40,38,25,0.85);border-radius:0.8px;"></i><i style="left:10.3px;top:2.5px;width:12px;height:2.4px;background:rgba(40,38,25,0.85);border-radius:0.8px;"></i><i style="left:3px;top:5.8px;width:8px;height:1.8px;background:rgba(40,40,30,0.55);border-radius:0.8px;"></i><i style="left:12.3px;top:5.8px;width:3px;height:1.8px;background:rgba(40,40,30,0.55);border-radius:0.8px;"></i><i style="left:16.6px;top:5.8px;width:11px;height:1.8px;background:rgba(40,40,30,0.55);border-radius:0.8px;"></i><i style="left:36px;top:2.5px;width:16px;height:3.5px;background:#2f6b48;border-radius:2px;"></i><i style="left:3px;top:11px;width:31px;height:6.5px;background:rgba(190,215,160,0.55);border-radius:1px;"></i><i style="left:4.5px;top:12.5px;width:10px;height:3.4px;background:rgba(40,38,25,0.85);border-radius:0.8px;"></i><i style="left:15.8px;top:12.5px;width:16px;height:3.4px;background:rgba(40,38,25,0.85);border-radius:0.8px;"></i><i style="left:4.5px;top:19.5px;width:14px;height:3.4px;background:rgba(40,38,25,0.8);border-radius:0.8px;"></i><i style="left:19.8px;top:19.5px;width:20px;height:3.4px;background:rgba(40,38,25,0.8);border-radius:0.8px;"></i><i style="left:3px;top:27px;width:11px;height:1.5px;background:rgba(60,60,40,0.35);border-radius:1px;"></i><i style="left:16px;top:27px;width:11px;height:1.5px;background:rgba(60,60,40,0.35);border-radius:1px;"></i><i style="left:29px;top:27px;width:10px;height:1.5px;background:rgba(60,60,40,0.35);border-radius:1px;"></i><i style="left:41px;top:27px;width:11px;height:1.5px;background:rgba(60,60,40,0.35);border-radius:1px;"></i><i style="left:3px;top:29.5px;width:9px;height:1.2px;background:rgba(60,60,40,0.35);border-radius:1px;"></i><i style="left:16px;top:29.5px;width:9px;height:1.2px;background:rgba(60,60,40,0.35);border-radius:1px;"></i><i style="left:29px;top:29.5px;width:8px;height:1.2px;background:rgba(60,60,40,0.35);border-radius:1px;"></i><i style="left:41px;top:29.5px;width:9px;height:1.2px;background:rgba(60,60,40,0.35);border-radius:1px;"></i><i style="left:2px;top:46px;width:14px;height:12px;background:#5a1e20;border-radius:6px;"></i><i style="left:5px;top:37px;width:8px;height:11px;background:#d6a58a;border-radius:5px;"></i><i style="left:4.5px;top:36px;width:9px;height:4px;background:#3a1e14;border-radius:3px;"></i><i style="left:15px;top:45px;width:14px;height:12px;background:#2f3540;border-radius:6px;"></i><i style="left:18px;top:36px;width:8px;height:11px;background:#d9b29a;border-radius:5px;"></i><i style="left:17.5px;top:35px;width:9px;height:4px;background:#8a8078;border-radius:3px;"></i><i style="left:28px;top:45px;width:14px;height:12px;background:#9a9ea6;border-radius:6px;"></i><i style="left:31px;top:36px;width:8px;height:11px;background:#d2a88f;border-radius:5px;"></i><i style="left:30.5px;top:35px;width:9px;height:4px;background:#777;border-radius:3px;"></i><i style="left:41px;top:44px;width:14px;height:12px;background:#d8d8d2;border-radius:6px;"></i><i style="left:44px;top:35px;width:8px;height:11px;background:#dcb49c;border-radius:5px;"></i><i style="left:43.5px;top:34px;width:9px;height:4px;background:#d8b8a0;border-radius:3px;"></i></div><div class="q" style="left:57.7px;top:57.3px;width:54.6px;height:54.7px;background:radial-gradient(circle at 60% 55%,#fbf1b0 0%,#f8e98d 70%)"><i style="left:3px;top:2.5px;width:10px;height:2.4px;background:#2b2a20;border-radius:0.5px;"></i><i style="left:16px;top:2.5px;width:12px;height:1.6px;background:rgba(40,40,30,0.6);border-radius:1px;"></i><i style="left:16px;top:5px;width:10px;height:1.4px;background:rgba(60,60,40,0.35);border-radius:1px;"></i><i style="left:36px;top:2.5px;width:16px;height:3.5px;background:#2f6b48;border-radius:2px;"></i><i style="left:3px;top:10.5px;width:4px;height:3.8px;background:rgba(40,38,25,0.85);border-radius:0.8px;"></i><i style="left:8.6px;top:10.5px;width:8px;height:3.8px;background:rgba(40,38,25,0.85);border-radius:0.8px;"></i><i style="left:18.2px;top:10.5px;width:5px;height:3.8px;background:rgba(40,38,25,0.85);border-radius:0.8px;"></i><i style="left:24.8px;top:10.5px;width:7px;height:3.8px;background:rgba(40,38,25,0.85);border-radius:0.8px;"></i><i style="left:33.4px;top:10.5px;width:12px;height:3.8px;background:rgba(40,38,25,0.85);border-radius:0.8px;"></i><i style="left:3px;top:16.5px;width:9px;height:3.8px;background:rgba(40,38,25,0.85);border-radius:0.8px;"></i><i style="left:13.6px;top:16.5px;width:9px;height:3.8px;background:rgba(40,38,25,0.85);border-radius:0.8px;"></i><i style="left:24.2px;top:16.5px;width:13px;height:3.8px;background:rgba(40,38,25,0.85);border-radius:0.8px;"></i><i style="left:3px;top:25px;width:14px;height:1.5px;background:rgba(40,40,30,0.6);border-radius:1px;"></i><i style="left:3px;top:27.3px;width:9px;height:1.2px;background:rgba(60,60,40,0.35);border-radius:1px;"></i><i style="left:37px;top:25px;width:15px;height:1.5px;background:rgba(40,40,30,0.6);border-radius:1px;"></i><i style="left:40px;top:27.3px;width:12px;height:1.2px;background:rgba(60,60,40,0.35);border-radius:1px;"></i><i style="left:18px;top:29px;width:17px;height:10px;background:transparent;border-radius:4px;box-shadow:inset 0 0 0 0.7px rgba(70,150,100,0.7)"></i><i style="left:3px;top:33px;width:2px;height:8px;background:transparent;border-radius:2px;box-shadow:inset 0.7px 0 0 rgba(70,150,100,0.7)"></i><i style="left:4px;top:43px;width:22px;height:14px;background:#6fa6dc;border-radius:7px;"></i><i style="left:10px;top:31px;width:10px;height:14px;background:#e2b79d;border-radius:5px;"></i><i style="left:8.5px;top:29.5px;width:13px;height:9px;background:#151515;border-radius:6px;"></i><i style="left:8px;top:36px;width:3px;height:10px;background:#151515;border-radius:1.5px;"></i><i style="left:19px;top:36px;width:3px;height:10px;background:#151515;border-radius:1.5px;"></i><i style="left:31px;top:44px;width:22px;height:13px;background:#6e1e26;border-radius:7px;"></i><i style="left:37px;top:31px;width:10px;height:14px;background:#efc6ad;border-radius:5px;"></i><i style="left:35.5px;top:30px;width:13px;height:7px;background:#f0d9a0;border-radius:5px;"></i><i style="left:35px;top:34px;width:3px;height:10px;background:#f0d9a0;border-radius:1.5px;"></i><i style="left:46px;top:34px;width:3px;height:10px;background:#f0d9a0;border-radius:1.5px;"></i></div></div><div class="t" style="left:607.00px;top:554.56px;font-size:18px;color:#75718c;font-weight:400;letter-spacing:0px;">Listening off</div>
<div class="t" style="left:606.20px;top:589.02px;font-size:21px;color:#7b7fd6;font-weight:400;letter-spacing:0px;">Q<svg width="6.60" height="14.50" viewBox="0 0 6.60 14.50" style="display:inline-block;vertical-align:-0.4px;overflow:visible"><path d="M3.00 0.00 L4.90 0.00 L4.90 14.50 L3.00 14.50 L3.00 1.50 L1.00 3.90 L1.00 2.60 Z" fill="#7b7fd6"/></svg> Event Follow-Up</div>
<svg class="a" style="left:603px;top:621px" width="28" height="28" viewBox="0 0 28 28">
<path d="M21.6 13.9 A7.6 7.6 0 0 0 8.7 8.5" fill="none" stroke="#6a6682" stroke-width="2" stroke-linecap="round"/>
<path d="M6.3 13.4 A7.6 7.6 0 0 0 19.4 19.1" fill="none" stroke="#6a6682" stroke-width="2" stroke-linecap="round"/>
<path d="M7.3 5.7 L7.5 9.8 L11.5 9.8" fill="none" stroke="#6a6682" stroke-width="2" stroke-linecap="round" stroke-linejoin="round"/>
<path d="M16.9 17.6 L20.7 17.6 L20.7 21.5" fill="none" stroke="#6a6682" stroke-width="2" stroke-linecap="round" stroke-linejoin="round"/></svg><div class="t" style="left:634.60px;top:626.96px;font-size:18px;color:#75718c;font-weight:400;letter-spacing:0px;">Synced 6 days ago</div>
<div class="t" style="left:993.5px;top:589.50px;font-size:21.5px;color:#433d65">2,000<span style="display:inline-block;width:8.5px"></span><span style="position:relative;top:-10.6px;font-size:17px;font-weight:400;-webkit-text-stroke:0.75px #19b8a8;color:#19b8a8;letter-spacing:1.1px"><svg width="11" height="13" viewBox="0 0 11 13" style="vertical-align:-1px;margin-right:4px"><path d="M5.5 12.5 L5.5 1.5 M1 6 L5.5 1.5 L10 6" fill="none" stroke="#19b8a8" stroke-width="1.7"/></svg><svg width="6.60" height="12.60" viewBox="0 0 6.60 12.60" style="display:inline-block;vertical-align:-0.4px;overflow:visible"><path d="M2.90 0.00 L5.20 0.00 L5.20 12.60 L2.90 12.60 L2.90 2.10 L0.00 4.50 L0.00 2.30 Z" fill="#19b8a8"/></svg>07<svg width="6.60" height="12.60" viewBox="0 0 6.60 12.60" style="display:inline-block;vertical-align:-0.4px;overflow:visible"><path d="M2.90 0.00 L5.20 0.00 L5.20 12.60 L2.90 12.60 L2.90 2.10 L0.00 4.50 L0.00 2.30 Z" fill="#19b8a8"/></svg></span></div>
<div class="t" style="left:1137.50px;top:589.50px;font-size:21.5px;color:#433d65;font-weight:400;letter-spacing:0px;">2,000</div>
<div class="t" style="left:1318.00px;top:589.50px;font-size:21.5px;color:#433d65;font-weight:400;letter-spacing:0px;">0</div>
<div class="t" style="left:1435.00px;top:589.50px;font-size:21.5px;color:#433d65;font-weight:400;letter-spacing:0px;">0</div>
<div class="t" style="left:1531.00px;top:589.50px;font-size:21.5px;color:#433d65;font-weight:400;letter-spacing:0px;">5<svg width="7.70" height="14.50" viewBox="0 0 7.70 14.50" style="display:inline-block;vertical-align:-0.4px;overflow:visible"><path d="M3.10 0.00 L5.10 0.00 L5.10 14.50 L3.10 14.50 L3.10 1.60 L0.00 4.00 L0.00 2.60 Z" fill="#433d65"/></svg>8</div>
<div class="t" style="left:1652.00px;top:589.50px;font-size:21.5px;color:#433d65;font-weight:400;letter-spacing:0px;">0</div>
<div class="t" style="left:1794.50px;top:589.50px;font-size:21.5px;color:#433d65;font-weight:400;letter-spacing:0px;">5<svg width="7.70" height="14.50" viewBox="0 0 7.70 14.50" style="display:inline-block;vertical-align:-0.4px;overflow:visible"><path d="M3.10 0.00 L5.10 0.00 L5.10 14.50 L3.10 14.50 L3.10 1.60 L0.00 4.00 L0.00 2.60 Z" fill="#433d65"/></svg>8</div>
<div class="a" style="left:1960.9px;top:587.70px;width:5.5px;height:5.5px;border-radius:50%;background:#433d65"></div><div class="a" style="left:1960.9px;top:596.00px;width:5.5px;height:5.5px;border-radius:50%;background:#433d65"></div><div class="a" style="left:1960.9px;top:604.30px;width:5.5px;height:5.5px;border-radius:50%;background:#433d65"></div><div class="a card" style="left:368.5px;top:678px;width:1641px;height:124px;border-radius:11px"></div><svg class="a" style="left:400.6px;top:722.4px" width="35" height="35" viewBox="0 0 35 35">
<rect x="0" y="0" width="34.6" height="34.8" rx="7.5" fill="#e3f5df"/>
<path d="M10.1 10.2 Q10.1 7.3 12.6 8.7 L25.5 16.1 Q27.4 17.3 25.5 18.6 L12.6 26.1 Q10.1 27.5 10.1 24.6 Z" fill="#33bb2a"/></svg><div class="a thumb" style="left:467.3px;top:684px"><div class="q" style="left:0;top:0;width:54.6px;height:54px;background:radial-gradient(circle at 60% 55%,#fbf1b0 0%,#f8e98d 70%)"><i style="left:3px;top:2.5px;width:20px;height:3px;background:#2f6b48;border-radius:2px;"></i><i style="left:25px;top:2.5px;width:19px;height:3px;background:rgba(255,255,255,0.25);border-radius:2px;box-shadow:inset 0 0 0 0.6px rgba(120,110,60,0.5)"></i><i style="left:3px;top:9px;width:17px;height:2.5px;background:rgba(40,38,25,0.85);border-radius:0.8px;"></i><i style="left:21.3px;top:9px;width:6px;height:2.5px;background:rgba(40,38,25,0.85);border-radius:0.8px;"></i><i style="left:3px;top:12.8px;width:5px;height:2.5px;background:rgba(40,38,25,0.85);border-radius:0.8px;"></i><i style="left:9.3px;top:12.8px;width:10px;height:2.5px;background:rgba(40,38,25,0.85);border-radius:0.8px;"></i><i style="left:20.6px;top:12.8px;width:4px;height:2.5px;background:rgba(40,38,25,0.85);border-radius:0.8px;"></i><i style="left:25.9px;top:12.8px;width:4px;height:2.5px;background:rgba(40,38,25,0.85);border-radius:0.8px;"></i><i style="left:31.2px;top:12.8px;width:6px;height:2.5px;background:rgba(40,38,25,0.85);border-radius:0.8px;"></i><i style="left:3px;top:16.6px;width:14px;height:2.5px;background:rgba(40,38,25,0.85);border-radius:0.8px;"></i><i style="left:19px;top:16.6px;width:12px;height:2.5px;background:rgba(40,38,25,0.85);border-radius:0.8px;"></i><i style="left:22px;top:16.8px;width:14px;height:2px;background:rgba(50,140,90,0.55);border-radius:1px;"></i><i style="left:3px;top:23px;width:12.5px;height:13px;background:#2d7b4c;border-radius:1px;"></i><i style="left:21px;top:23px;width:12.5px;height:13px;background:#2d7b4c;border-radius:1px;"></i><i style="left:39px;top:23px;width:12.5px;height:13px;background:#2d7b4c;border-radius:1px;"></i><i style="left:5.8px;top:24.5px;width:7px;height:8px;background:#c99474;border-radius:3.5px;"></i><i style="left:23.8px;top:24.5px;width:7px;height:8px;background:#e2c0a6;border-radius:3.5px;"></i><i style="left:41.8px;top:24.5px;width:7px;height:8px;background:#c48866;border-radius:3.5px;"></i><i style="left:5.5px;top:23.8px;width:7.5px;height:2.5px;background:#3a2a20;border-radius:2px;"></i><i style="left:23.5px;top:23.8px;width:7.5px;height:2px;background:#b09070;border-radius:2px;"></i><i style="left:41.5px;top:23.8px;width:7.5px;height:1.5px;background:#a07058;border-radius:2px;"></i><i style="left:3px;top:32.5px;width:12.5px;height:3.5px;background:#2a3460;border-radius:1px;"></i><i style="left:21px;top:32.5px;width:12.5px;height:3.5px;background:#e8e8e0;border-radius:1px;"></i><i style="left:39px;top:32.5px;width:12.5px;height:3.5px;background:#8a5a40;border-radius:1px;"></i><i style="left:3px;top:39px;width:12px;height:1.5px;background:rgba(60,60,40,0.35);border-radius:1px;"></i><i style="left:21px;top:39px;width:12px;height:1.5px;background:rgba(60,60,40,0.35);border-radius:1px;"></i><i style="left:39px;top:39px;width:12px;height:1.5px;background:rgba(60,60,40,0.35);border-radius:1px;"></i><i style="left:3px;top:41.5px;width:10px;height:1.2px;background:rgba(60,60,40,0.35);border-radius:1px;"></i><i style="left:21px;top:41.5px;width:10px;height:1.2px;background:rgba(60,60,40,0.35);border-radius:1px;"></i><i style="left:39px;top:41.5px;width:10px;height:1.2px;background:rgba(60,60,40,0.35);border-radius:1px;"></i><i style="left:3px;top:47px;width:10px;height:2.6px;background:#2b2a20;border-radius:0.5px;"></i><i style="left:16px;top:47px;width:2px;height:0.8px;background:rgba(40,38,25,0.85);border-radius:0px;"></i><i style="left:20px;top:46.5px;width:11px;height:1.5px;background:rgba(40,40,30,0.6);border-radius:1px;"></i><i style="left:20px;top:48.8px;width:11px;height:1.2px;background:rgba(60,60,40,0.35);border-radius:1px;"></i></div><div class="q" style="left:57.7px;top:0;width:54.6px;height:54px;background:radial-gradient(circle at 60% 55%,#fbf1b0 0%,#f8e98d 70%)"><i style="left:3px;top:3px;width:7px;height:2.6px;background:rgba(40,38,25,0.85);border-radius:0.8px;"></i><i style="left:11.3px;top:3px;width:3px;height:2.6px;background:rgba(40,38,25,0.85);border-radius:0.8px;"></i><i style="left:15px;top:3px;width:17px;height:2.6px;background:#8a35e8;border-radius:0.8px;"></i><i style="left:33.5px;top:3px;width:5px;height:2.6px;background:rgba(40,38,25,0.85);border-radius:0.8px;"></i><i style="left:39.8px;top:3px;width:3px;height:2.6px;background:rgba(40,38,25,0.85);border-radius:0.8px;"></i><i style="left:3px;top:6.9px;width:7px;height:2.6px;background:rgba(40,38,25,0.85);border-radius:0.8px;"></i><i style="left:11.2px;top:6.9px;width:3px;height:2.6px;background:rgba(40,38,25,0.85);border-radius:0.8px;"></i><i style="left:15.4px;top:6.9px;width:4px;height:2.6px;background:rgba(40,38,25,0.85);border-radius:0.8px;"></i><i style="left:20.6px;top:6.9px;width:2px;height:2.6px;background:rgba(40,38,25,0.85);border-radius:0.8px;"></i><i style="left:23.8px;top:6.9px;width:5px;height:2.6px;background:rgba(40,38,25,0.85);border-radius:0.8px;"></i><i style="left:30.0px;top:6.9px;width:9px;height:2.6px;background:rgba(40,38,25,0.85);border-radius:0.8px;"></i><i style="left:3px;top:10.8px;width:6px;height:2.6px;background:rgba(40,38,25,0.85);border-radius:0.8px;"></i><i style="left:10.3px;top:10.8px;width:7px;height:2.6px;background:rgba(40,38,25,0.85);border-radius:0.8px;"></i><i style="left:18.6px;top:10.8px;width:10px;height:2.6px;background:rgba(40,38,25,0.85);border-radius:0.8px;"></i><i style="left:0;top:19px;width:23px;height:35px;background:linear-gradient(165deg,#1a2440 0%,#2c3a66 35%,#7b8db8 65%,#dfe6f2 85%,#f0f3f8 100%)"></i><i style="left:9px;top:21px;width:10px;height:15px;background:radial-gradient(ellipse at 50% 40%,#e8582e 0%,#a02a18 70%);border-radius:4px;"></i><i style="left:3px;top:26px;width:6px;height:6px;background:rgba(200,210,240,0.5);border-radius:3px;"></i><i style="left:30px;top:20px;width:12px;height:4px;background:transparent;border-radius:2px;box-shadow:inset 0 0 0 0.6px rgba(60,60,40,0.5)"></i><i style="left:24px;top:26px;width:20px;height:1.6px;background:rgba(150,80,230,0.6);border-radius:1px;"></i><i style="left:27px;top:29.5px;width:14px;height:1.6px;background:rgba(150,80,230,0.6);border-radius:1px;"></i><i style="left:27px;top:33px;width:1.5px;height:1.5px;background:rgba(40,40,30,0.7);border-radius:1px;"></i><i style="left:25px;top:47px;width:10px;height:2.6px;background:#2b2a20;border-radius:0.5px;"></i><i style="left:38px;top:46.5px;width:12px;height:1.5px;background:rgba(40,40,30,0.6);border-radius:1px;"></i><i style="left:38px;top:48.8px;width:10px;height:1.2px;background:rgba(60,60,40,0.35);border-radius:1px;"></i></div><div class="q" style="left:0;top:57.3px;width:54.6px;height:54.7px;background:radial-gradient(circle at 60% 55%,#fbf1b0 0%,#f8e98d 70%)"><i style="left:3px;top:2.5px;width:6px;height:2.4px;background:rgba(40,38,25,0.85);border-radius:0.8px;"></i><i style="left:10.3px;top:2.5px;width:12px;height:2.4px;background:rgba(40,38,25,0.85);border-radius:0.8px;"></i><i style="left:3px;top:5.8px;width:8px;height:1.8px;background:rgba(40,40,30,0.55);border-radius:0.8px;"></i><i style="left:12.3px;top:5.8px;width:3px;height:1.8px;background:rgba(40,40,30,0.55);border-radius:0.8px;"></i><i style="left:16.6px;top:5.8px;width:11px;height:1.8px;background:rgba(40,40,30,0.55);border-radius:0.8px;"></i><i style="left:36px;top:2.5px;width:16px;height:3.5px;background:#2f6b48;border-radius:2px;"></i><i style="left:3px;top:11px;width:31px;height:6.5px;background:rgba(190,215,160,0.55);border-radius:1px;"></i><i style="left:4.5px;top:12.5px;width:10px;height:3.4px;background:rgba(40,38,25,0.85);border-radius:0.8px;"></i><i style="left:15.8px;top:12.5px;width:16px;height:3.4px;background:rgba(40,38,25,0.85);border-radius:0.8px;"></i><i style="left:4.5px;top:19.5px;width:14px;height:3.4px;background:rgba(40,38,25,0.8);border-radius:0.8px;"></i><i style="left:19.8px;top:19.5px;width:20px;height:3.4px;background:rgba(40,38,25,0.8);border-radius:0.8px;"></i><i style="left:3px;top:27px;width:11px;height:1.5px;background:rgba(60,60,40,0.35);border-radius:1px;"></i><i style="left:16px;top:27px;width:11px;height:1.5px;background:rgba(60,60,40,0.35);border-radius:1px;"></i><i style="left:29px;top:27px;width:10px;height:1.5px;background:rgba(60,60,40,0.35);border-radius:1px;"></i><i style="left:41px;top:27px;width:11px;height:1.5px;background:rgba(60,60,40,0.35);border-radius:1px;"></i><i style="left:3px;top:29.5px;width:9px;height:1.2px;background:rgba(60,60,40,0.35);border-radius:1px;"></i><i style="left:16px;top:29.5px;width:9px;height:1.2px;background:rgba(60,60,40,0.35);border-radius:1px;"></i><i style="left:29px;top:29.5px;width:8px;height:1.2px;background:rgba(60,60,40,0.35);border-radius:1px;"></i><i style="left:41px;top:29.5px;width:9px;height:1.2px;background:rgba(60,60,40,0.35);border-radius:1px;"></i><i style="left:2px;top:46px;width:14px;height:12px;background:#5a1e20;border-radius:6px;"></i><i style="left:5px;top:37px;width:8px;height:11px;background:#d6a58a;border-radius:5px;"></i><i style="left:4.5px;top:36px;width:9px;height:4px;background:#3a1e14;border-radius:3px;"></i><i style="left:15px;top:45px;width:14px;height:12px;background:#2f3540;border-radius:6px;"></i><i style="left:18px;top:36px;width:8px;height:11px;background:#d9b29a;border-radius:5px;"></i><i style="left:17.5px;top:35px;width:9px;height:4px;background:#8a8078;border-radius:3px;"></i><i style="left:28px;top:45px;width:14px;height:12px;background:#9a9ea6;border-radius:6px;"></i><i style="left:31px;top:36px;width:8px;height:11px;background:#d2a88f;border-radius:5px;"></i><i style="left:30.5px;top:35px;width:9px;height:4px;background:#777;border-radius:3px;"></i><i style="left:41px;top:44px;width:14px;height:12px;background:#d8d8d2;border-radius:6px;"></i><i style="left:44px;top:35px;width:8px;height:11px;background:#dcb49c;border-radius:5px;"></i><i style="left:43.5px;top:34px;width:9px;height:4px;background:#d8b8a0;border-radius:3px;"></i></div><div class="q" style="left:57.7px;top:57.3px;width:54.6px;height:54.7px;background:radial-gradient(circle at 60% 55%,#fbf1b0 0%,#f8e98d 70%)"><i style="left:3px;top:2.5px;width:10px;height:2.4px;background:#2b2a20;border-radius:0.5px;"></i><i style="left:16px;top:2.5px;width:12px;height:1.6px;background:rgba(40,40,30,0.6);border-radius:1px;"></i><i style="left:16px;top:5px;width:10px;height:1.4px;background:rgba(60,60,40,0.35);border-radius:1px;"></i><i style="left:36px;top:2.5px;width:16px;height:3.5px;background:#2f6b48;border-radius:2px;"></i><i style="left:3px;top:10.5px;width:4px;height:3.8px;background:rgba(40,38,25,0.85);border-radius:0.8px;"></i><i style="left:8.6px;top:10.5px;width:8px;height:3.8px;background:rgba(40,38,25,0.85);border-radius:0.8px;"></i><i style="left:18.2px;top:10.5px;width:5px;height:3.8px;background:rgba(40,38,25,0.85);border-radius:0.8px;"></i><i style="left:24.8px;top:10.5px;width:7px;height:3.8px;background:rgba(40,38,25,0.85);border-radius:0.8px;"></i><i style="left:33.4px;top:10.5px;width:12px;height:3.8px;background:rgba(40,38,25,0.85);border-radius:0.8px;"></i><i style="left:3px;top:16.5px;width:9px;height:3.8px;background:rgba(40,38,25,0.85);border-radius:0.8px;"></i><i style="left:13.6px;top:16.5px;width:9px;height:3.8px;background:rgba(40,38,25,0.85);border-radius:0.8px;"></i><i style="left:24.2px;top:16.5px;width:13px;height:3.8px;background:rgba(40,38,25,0.85);border-radius:0.8px;"></i><i style="left:3px;top:25px;width:14px;height:1.5px;background:rgba(40,40,30,0.6);border-radius:1px;"></i><i style="left:3px;top:27.3px;width:9px;height:1.2px;background:rgba(60,60,40,0.35);border-radius:1px;"></i><i style="left:37px;top:25px;width:15px;height:1.5px;background:rgba(40,40,30,0.6);border-radius:1px;"></i><i style="left:40px;top:27.3px;width:12px;height:1.2px;background:rgba(60,60,40,0.35);border-radius:1px;"></i><i style="left:18px;top:29px;width:17px;height:10px;background:transparent;border-radius:4px;box-shadow:inset 0 0 0 0.7px rgba(70,150,100,0.7)"></i><i style="left:3px;top:33px;width:2px;height:8px;background:transparent;border-radius:2px;box-shadow:inset 0.7px 0 0 rgba(70,150,100,0.7)"></i><i style="left:4px;top:43px;width:22px;height:14px;background:#6fa6dc;border-radius:7px;"></i><i style="left:10px;top:31px;width:10px;height:14px;background:#e2b79d;border-radius:5px;"></i><i style="left:8.5px;top:29.5px;width:13px;height:9px;background:#151515;border-radius:6px;"></i><i style="left:8px;top:36px;width:3px;height:10px;background:#151515;border-radius:1.5px;"></i><i style="left:19px;top:36px;width:3px;height:10px;background:#151515;border-radius:1.5px;"></i><i style="left:31px;top:44px;width:22px;height:13px;background:#6e1e26;border-radius:7px;"></i><i style="left:37px;top:31px;width:10px;height:14px;background:#efc6ad;border-radius:5px;"></i><i style="left:35.5px;top:30px;width:13px;height:7px;background:#f0d9a0;border-radius:5px;"></i><i style="left:35px;top:34px;width:3px;height:10px;background:#f0d9a0;border-radius:1.5px;"></i><i style="left:46px;top:34px;width:3px;height:10px;background:#f0d9a0;border-radius:1.5px;"></i></div></div><div class="t" style="left:607.00px;top:695.56px;font-size:18px;color:#75718c;font-weight:400;letter-spacing:0px;">Listening off</div>
<div class="t" style="left:606.20px;top:730.02px;font-size:21px;color:#7b7fd6;font-weight:400;letter-spacing:0px;">Q<svg width="6.60" height="14.50" viewBox="0 0 6.60 14.50" style="display:inline-block;vertical-align:-0.4px;overflow:visible"><path d="M3.00 0.00 L4.90 0.00 L4.90 14.50 L3.00 14.50 L3.00 1.50 L1.00 3.90 L1.00 2.60 Z" fill="#7b7fd6"/></svg> Event Registrations</div>
<svg class="a" style="left:603px;top:762px" width="28" height="28" viewBox="0 0 28 28">
<path d="M21.6 13.9 A7.6 7.6 0 0 0 8.7 8.5" fill="none" stroke="#6a6682" stroke-width="2" stroke-linecap="round"/>
<path d="M6.3 13.4 A7.6 7.6 0 0 0 19.4 19.1" fill="none" stroke="#6a6682" stroke-width="2" stroke-linecap="round"/>
<path d="M7.3 5.7 L7.5 9.8 L11.5 9.8" fill="none" stroke="#6a6682" stroke-width="2" stroke-linecap="round" stroke-linejoin="round"/>
<path d="M16.9 17.6 L20.7 17.6 L20.7 21.5" fill="none" stroke="#6a6682" stroke-width="2" stroke-linecap="round" stroke-linejoin="round"/></svg><div class="t" style="left:634.60px;top:767.96px;font-size:18px;color:#75718c;font-weight:400;letter-spacing:0px;">Synced 6 days ago</div>
<div class="t" style="left:993.5px;top:730.50px;font-size:21.5px;color:#433d65">3,000<span style="display:inline-block;width:8.5px"></span><span style="position:relative;top:-10.6px;font-size:17px;font-weight:400;-webkit-text-stroke:0.75px #19b8a8;color:#19b8a8;letter-spacing:1.1px"><svg width="11" height="13" viewBox="0 0 11 13" style="vertical-align:-1px;margin-right:4px"><path d="M5.5 12.5 L5.5 1.5 M1 6 L5.5 1.5 L10 6" fill="none" stroke="#19b8a8" stroke-width="1.7"/></svg>3066</span></div>
<div class="t" style="left:1137.50px;top:730.50px;font-size:21.5px;color:#433d65;font-weight:400;letter-spacing:0px;">3,000</div>
<div class="t" style="left:1318.00px;top:730.50px;font-size:21.5px;color:#433d65;font-weight:400;letter-spacing:0px;">0</div>
<div class="t" style="left:1435.00px;top:730.50px;font-size:21.5px;color:#433d65;font-weight:400;letter-spacing:0px;">0</div>
<div class="t" style="left:1531.00px;top:730.50px;font-size:21.5px;color:#433d65;font-weight:400;letter-spacing:0px;">438</div>
<div class="t" style="left:1652.00px;top:730.50px;font-size:21.5px;color:#433d65;font-weight:400;letter-spacing:0px;">0</div>
<div class="t" style="left:1794.50px;top:730.50px;font-size:21.5px;color:#433d65;font-weight:400;letter-spacing:0px;">438</div>
<div class="a" style="left:1960.9px;top:728.70px;width:5.5px;height:5.5px;border-radius:50%;background:#433d65"></div><div class="a" style="left:1960.9px;top:737.00px;width:5.5px;height:5.5px;border-radius:50%;background:#433d65"></div><div class="a" style="left:1960.9px;top:745.30px;width:5.5px;height:5.5px;border-radius:50%;background:#433d65"></div>
</body></html>
